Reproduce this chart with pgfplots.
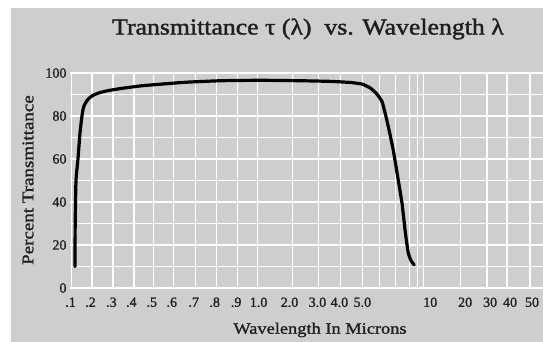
\documentclass[border=0pt]{standalone}
\usepackage{fontspec}
\setmainfont{Liberation Serif}
\newfontfamily\widefont{Liberation Serif}[FakeStretch=1.15,FakeBold=1.2]
\newfontfamily\titlefont{Liberation Serif}[FakeStretch=1.13,FakeBold=1.6]
\newfontfamily\tickfont{Liberation Serif}[FakeBold=1.2]
\usepackage{pgfplots}
\pgfplotsset{compat=1.18}
\definecolor{bggray}{RGB}{206,206,206}
\definecolor{txt}{RGB}{30,30,30}
\begin{document}
\begin{tikzpicture}[x=1pt,y=1pt]
\useasboundingbox (0,0) rectangle (543,342);
\fill[white] (0,0) rectangle (543,342);
\fill[bggray] (11,0) rectangle (543,334);
\begin{axis}[
  at={(70pt,54pt)}, anchor=south west,
  scale only axis, width=473pt, height=215pt,
  xmin=69, xmax=543, ymin=0, ymax=100,
  axis line style={draw=none},
  tick style={draw=none},
  /pgf/number format/assume math mode=true,
  tick label style={font=\tickfont\fontsize{14}{14}\selectfont, text=txt},
  xticklabel style={yshift=-6pt},
  xtick={69.5,89.5,110.5,130.5,151,171,193,214,235.5,258,289,317,339,362,430,465,490,510,532},
  xticklabels={.1,.2,.3,.4,.5,.6,.7,.8,.9,1.0,2.0,3.0,4.0,5.0,10,20,30,40,50},
  xmajorgrids=false,
  extra x ticks={70.5,91,112,133,153,173,195,216,237,257,292,318,340,362,379,395,409,417,423,460,487,507,530},
  extra x tick labels={},
  extra x tick style={grid=major},
  ytick={0,20,40,60,80,100},
  minor ytick={10,30,50,70,90},
  ymajorgrids=true, yminorgrids=true,
  grid style={white, line width=1.3pt},
  minor grid style={white, line width=1.3pt},
  title={\titlefont\fontsize{22.8}{26}\selectfont Transmittance τ (λ)\ \ vs. Wavelength λ},
  title style={at={(rel axis cs:0.503,1.177)}, anchor=center, text=txt},
  xlabel={\widefont\fontsize{16}{18}\selectfont Wavelength In Microns},
  xlabel style={at={(rel axis cs:0.5285,-0.195)}, anchor=center, text=txt},
  ylabel={\widefont\fontsize{16.5}{18}\selectfont Percent Transmittance},
  ylabel style={at={(rel axis cs:-0.0888,0.502)}, anchor=center, rotate=0, text=txt},
  clip=false,
]
\addplot[black, line width=3.2pt, smooth, tension=0.3, line cap=round, line join=round] coordinates {
(74,10) (74.2,30) (75,50) (77,60) (79,72) (81,80) (82.5,84) (85,86.5) (88,88.2)
(92,89.6) (97,90.6) (105,91.6) (120,92.8) (140,94) (160,94.8) (185,95.7)
(220,96.4) (260,96.6) (300,96.4) (330,96.1) (350,95.6) (362,94.8) (370,93)
(376,90.5) (381.7,86.7) (385,81) (388,75) (393,64) (398,50) (401.7,39.5)
(405,26) (408,16.3) (411,12.5) (414,10.7)
};
\end{axis}
\end{tikzpicture}
\end{document}
